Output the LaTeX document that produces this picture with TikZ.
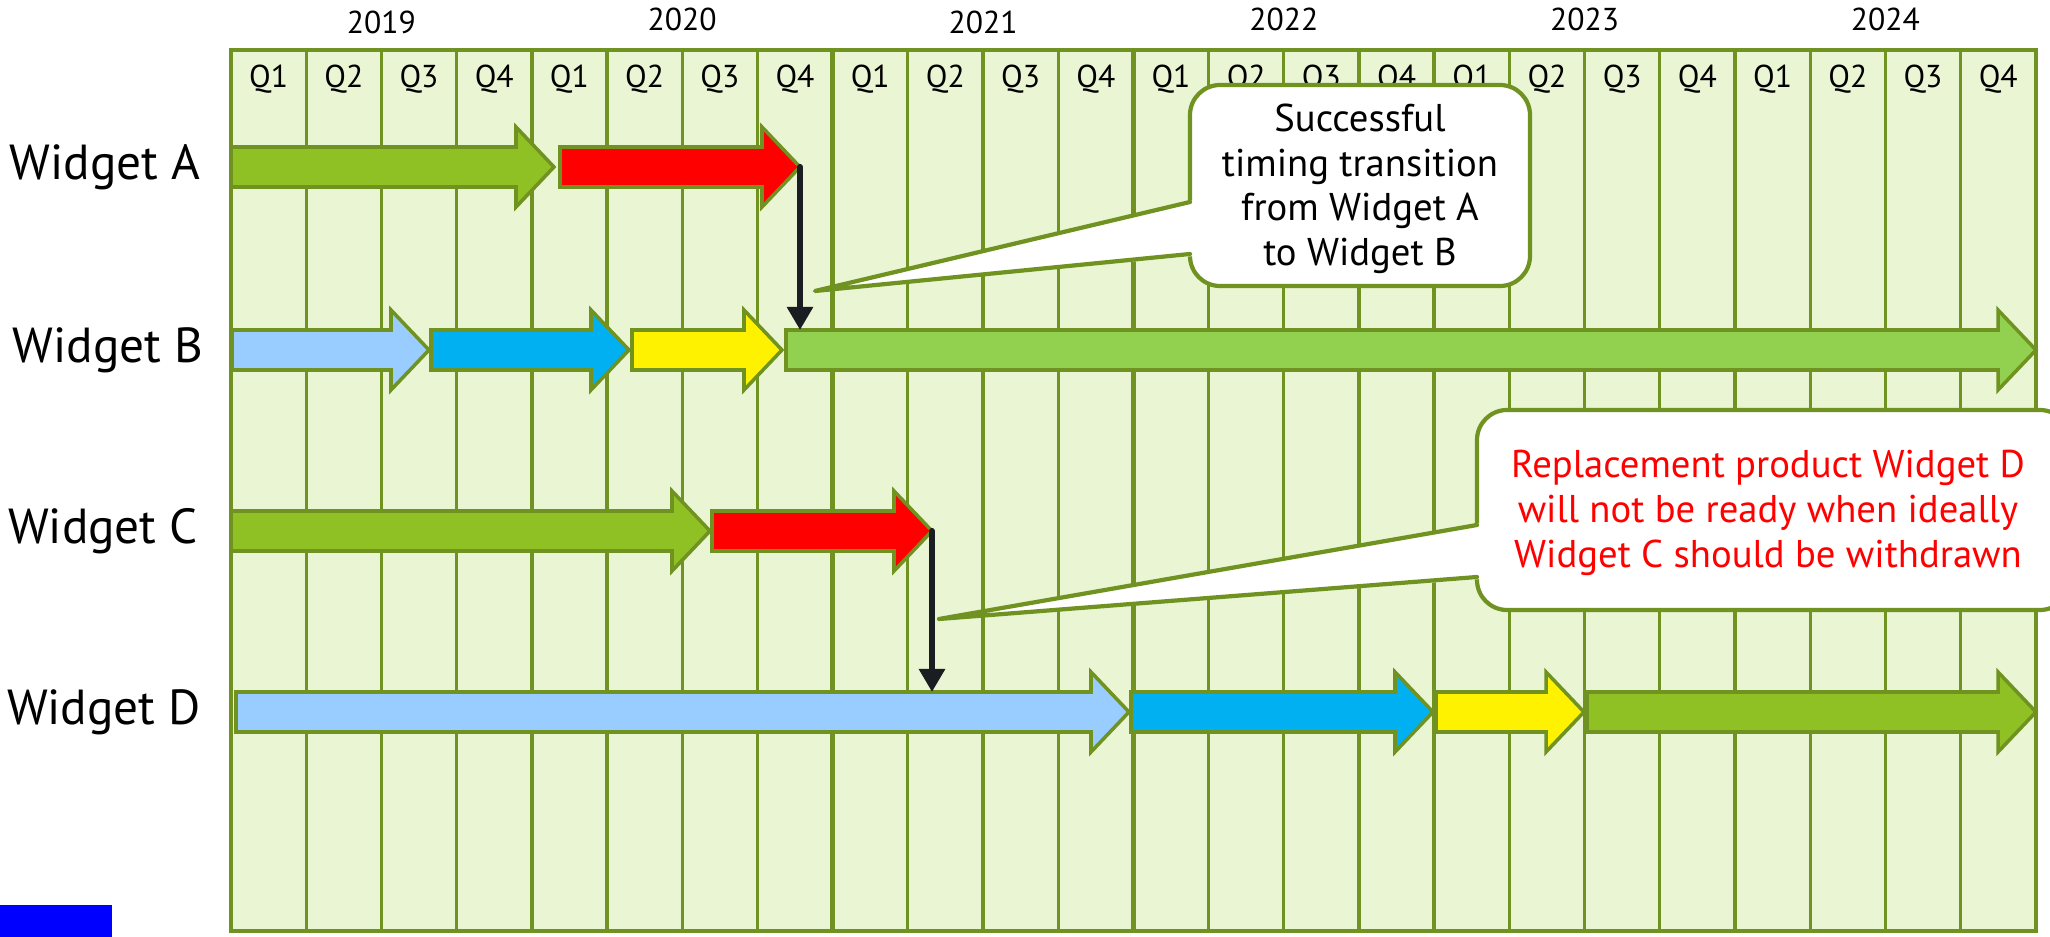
\documentclass[tikz,border=0pt]{standalone}
\usepackage{fontspec}
\setmainfont{PT Sans}
\usetikzlibrary{arrows.meta}
\definecolor{gridline}{RGB}{111,146,32}
\definecolor{gridfill}{RGB}{234,245,212}
\definecolor{dkgreen}{RGB}{143,192,36}
\definecolor{ltgreen}{RGB}{146,208,80}
\definecolor{ltblue}{RGB}{153,204,255}
\definecolor{cyanbar}{RGB}{0,176,240}
\definecolor{blackarrow}{RGB}{26,30,34}
\newcommand\ganttbar[5]{%
  \filldraw[bar, fill=#2] (#3,#5-20) -- (#4-38,#5-20) -- (#4-38,#5-40) -- (#4,#5) -- (#4-38,#5+40) -- (#4-38,#5+20) -- (#3,#5+20) -- cycle;
  \coordinate (#1) at (#4,#5);
  \coordinate (#1s) at (#3,#5-20);}
\tikzset{
  bar/.style={draw=gridline, line width=1pt, line join=miter},
  thinline/.style={draw=gridline, line width=0.9pt},
  thickline/.style={draw=gridline, line width=1.3pt},
  qlabel/.style={font=\fontsize{9}{11}\selectfont, inner sep=0pt},
  ylabel/.style={font=\fontsize{9}{11}\selectfont, inner sep=0pt},
  rowlabel/.style={font=\fontsize{14}{16}\selectfont, inner sep=0pt},
  calloutbox/.style={fill=white, draw=gridline, line width=1.2pt, rounded corners=0.3cm},
  calloutline/.style={draw=gridline, line width=1.2pt, line join=round, line cap=round},
  callouttext/.style={align=center, font=\fontsize{11}{12.7}\selectfont, inner sep=0pt},
  blk/.style={draw=blackarrow, line width=1.75pt, line cap=round, -{Triangle[width=0.25cm,length=0.23cm]}}
}
\begin{document}
\begin{tikzpicture}[x=0.01cm, y=-0.01cm]
\useasboundingbox (0,0) rectangle (2050,937);
% grid
\fill[gridfill] (231,50) rectangle (2036,931);
\foreach \i in {1,...,23}{
  \pgfmathtruncatemacro\m{mod(\i,4)}
  \ifnum\m=0
    \draw[thickline] (231+75.2*\i,50) -- (231+75.2*\i,931);
  \else
    \draw[thinline] (231+75.2*\i,50) -- (231+75.2*\i,931);
  \fi
}
\draw[thickline] (231,50) rectangle (2036,931);
% quarter labels
\foreach \i in {0,...,23}{
  \pgfmathtruncatemacro\q{mod(\i,4)+1}
  \node[qlabel] (q\i) at (231+75.2*\i+37.6,79) {Q\q};
}
% year labels
\foreach \yr/\yy [count=\k from 0] in {2019/22,2020/19,2021/22,2022/19,2023/19,2024/19}{
  \node[ylabel] (y\yr) at (381.4+300.8*\k,\yy) {\yr};
}
% row labels
\node[rowlabel] (wA) at (105,167) {Widget A};
\node[rowlabel] (wB) at (108,350) {Widget B};
\node[rowlabel] (wC) at (103,531) {Widget C};
\node[rowlabel] (wD) at (104,712) {Widget D};
% bars
\ganttbar{aone}{dkgreen}{231}{554}{167}
\ganttbar{atwo}{red}{560}{800}{167}
\ganttbar{bone}{ltblue}{232}{429}{350}
\ganttbar{btwo}{cyanbar}{431}{629}{350}
\ganttbar{bthree}{yellow}{632}{782}{350}
\ganttbar{bfour}{ltgreen}{786}{2036}{350}
\ganttbar{cone}{dkgreen}{231}{710}{531}
\ganttbar{ctwo}{red}{712}{932}{531}
\ganttbar{done}{ltblue}{236}{1129}{712}
\ganttbar{dtwo}{cyanbar}{1131}{1433}{712}
\ganttbar{dthree}{yellow}{1436}{1584}{712}
\ganttbar{dfour}{dkgreen}{1587}{2036}{712}
% black arrows
\draw[blk] (atwo) -- (atwo |- bfours);
\draw[blk] (ctwo) -- (ctwo |- dones);
% callout 1
\draw[calloutbox] (1190,85) rectangle (1530,286);
\coordinate (tipone) at (815,291);
\fill[white] (tipone) -- (1194,200) -- (1194,256) -- cycle;
\draw[calloutline] (1190,202) -- (tipone) -- (1190,254);
\node[callouttext] (conet) at (1360,189) {Successful\\timing transition\\from Widget A\\to Widget B};
% callout 2
\draw[calloutbox] (1477,410) rectangle (2070,610);
\coordinate (tiptwo) at (939,619);
\fill[white] (tiptwo) -- (1481,523) -- (1481,579) -- cycle;
\draw[calloutline] (1477,525) -- (tiptwo) -- (1477,577);
\node[callouttext, text=red] (ctwot) at (1768,513) {Replacement product Widget D\\will not be ready when ideally\\Widget C should be withdrawn};
% blue block
\fill[blue] (0,905) rectangle (112,937);
\end{tikzpicture}
\end{document}
